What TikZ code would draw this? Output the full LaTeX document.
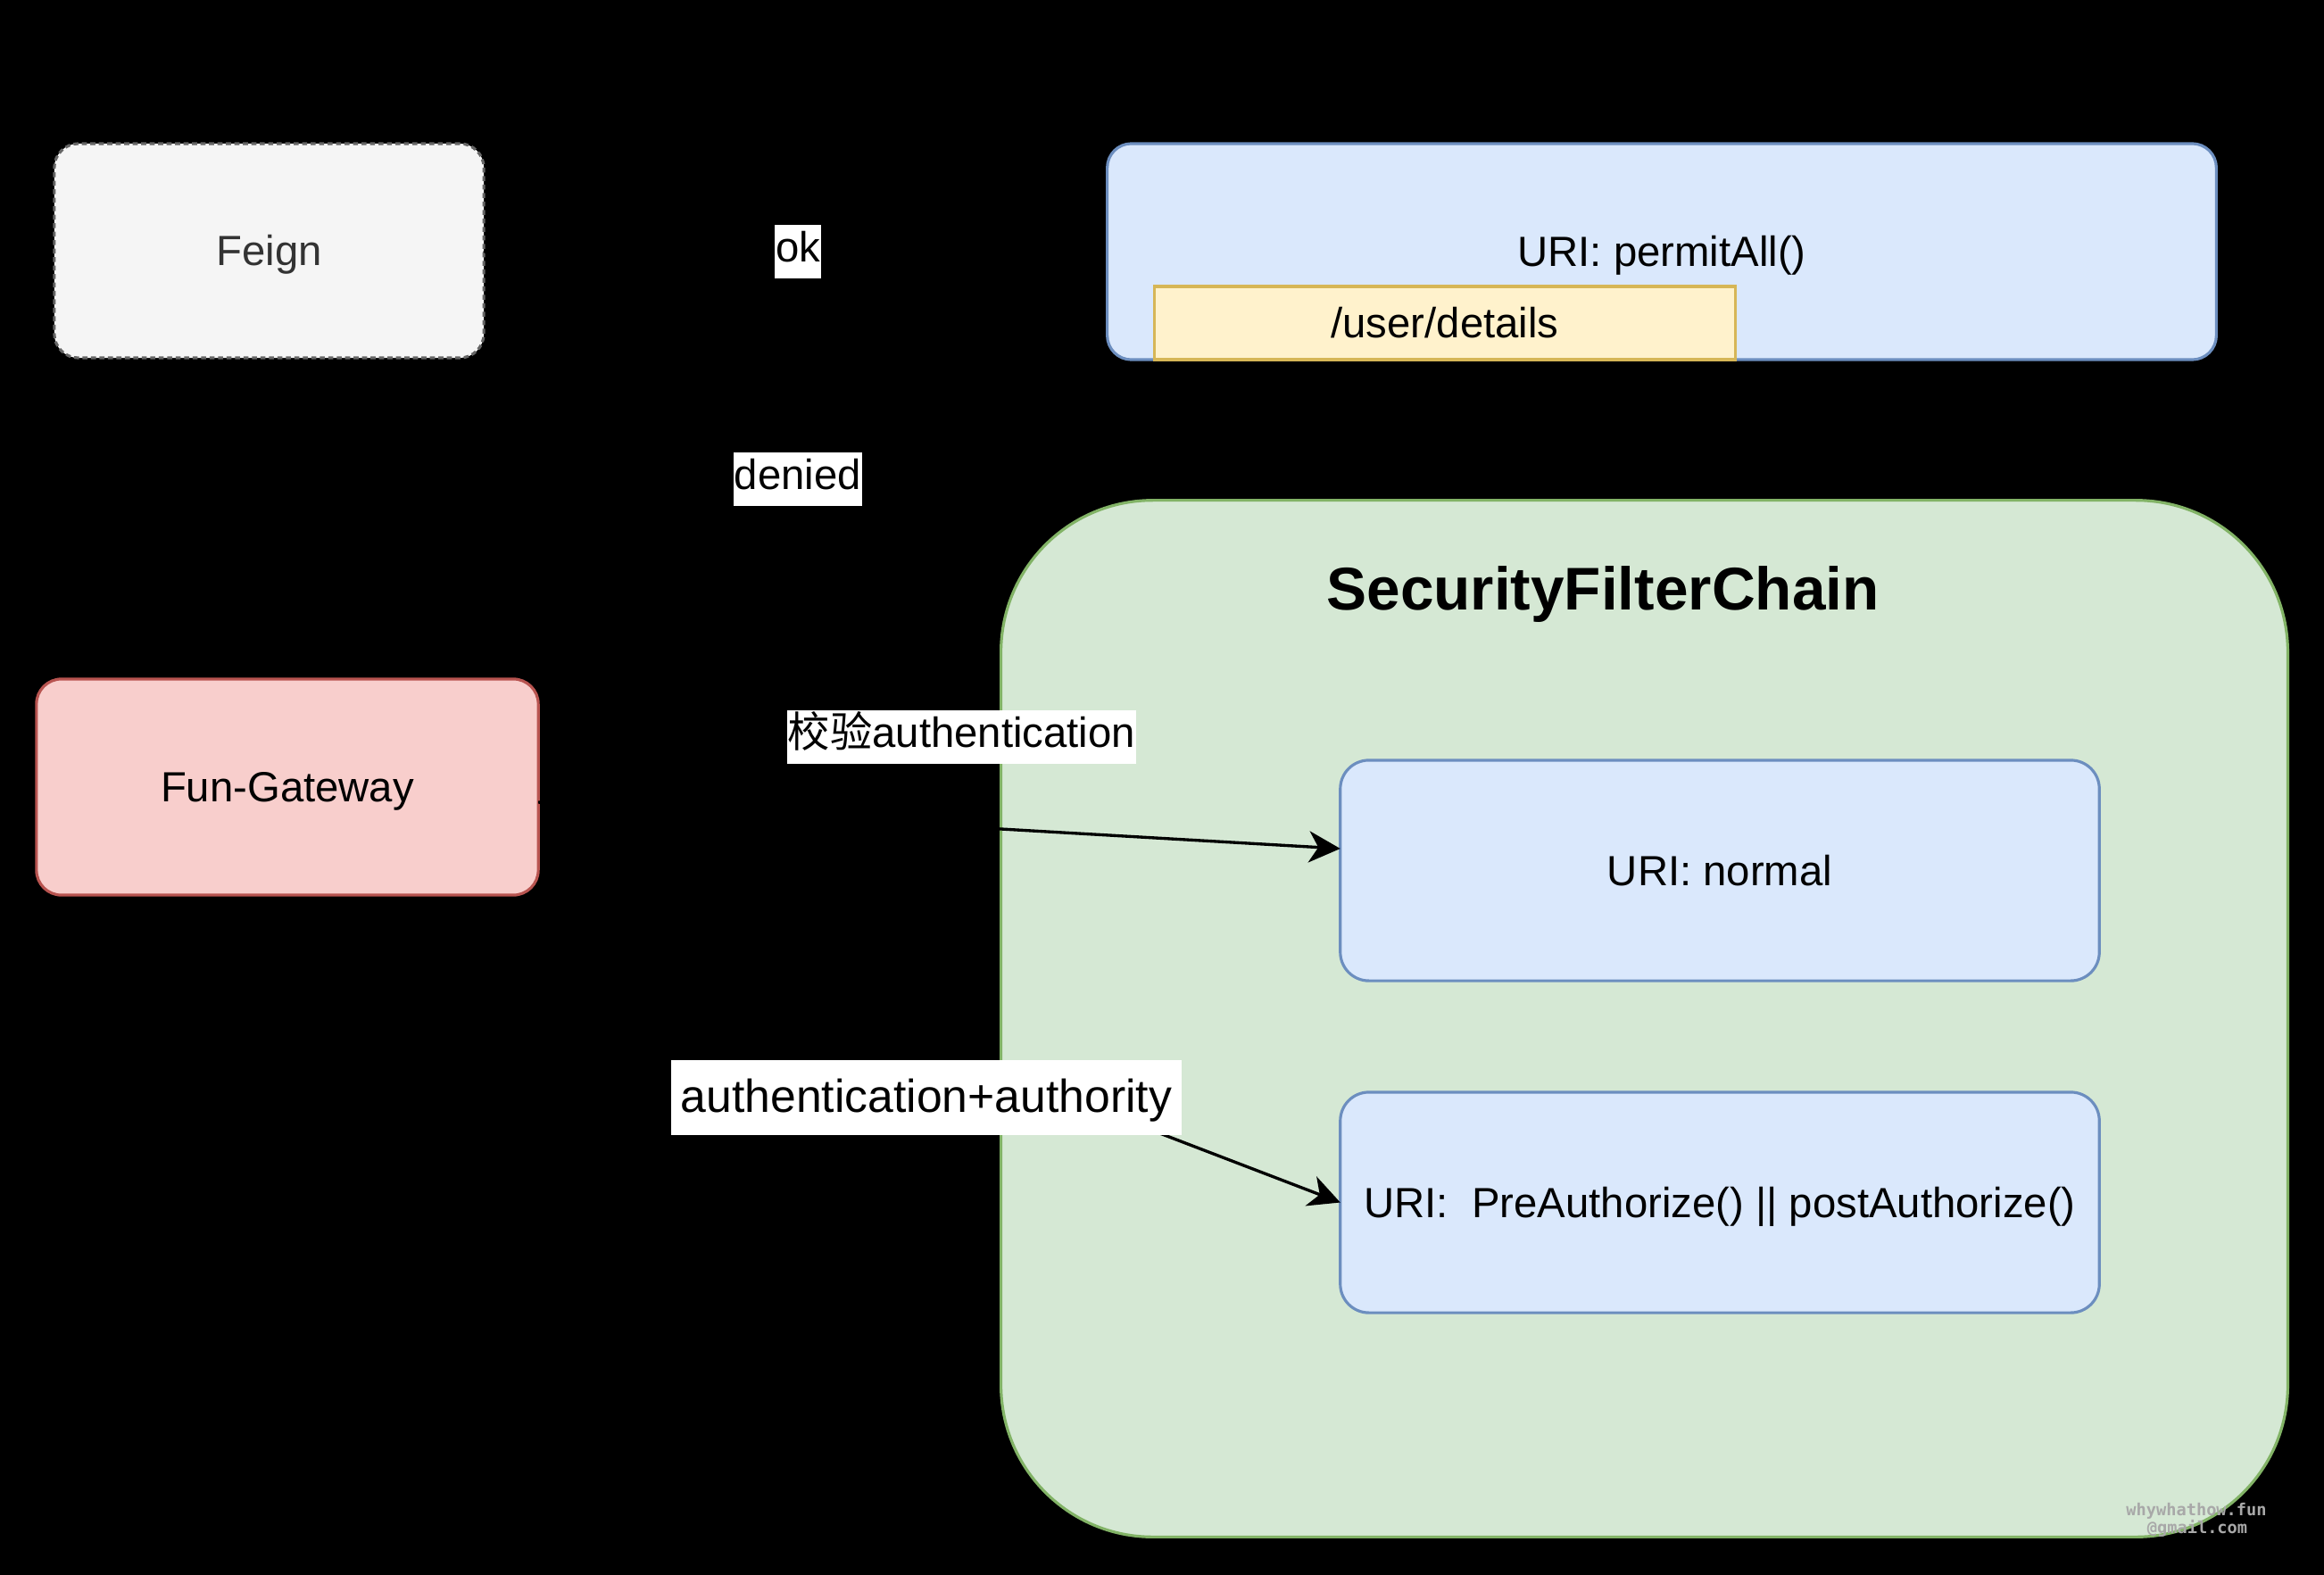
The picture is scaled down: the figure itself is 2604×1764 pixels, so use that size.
\documentclass[tikz,border=0pt]{standalone}
\usepackage{fontspec}
\setmainfont{Liberation Sans}
\newfontfamily\cjkfont{Noto Sans CJK SC}
\newfontfamily\markfont{DejaVu Sans Mono}
\usetikzlibrary{arrows.meta}

\definecolor{feignfill}{HTML}{F5F5F5}
\definecolor{feigndraw}{HTML}{666666}
\definecolor{feigntext}{HTML}{333333}
\definecolor{bluefill}{HTML}{DAE8FC}
\definecolor{bluedraw}{HTML}{6C8EBF}
\definecolor{yelfill}{HTML}{FFF2CC}
\definecolor{yeldraw}{HTML}{D6B656}
\definecolor{redfill}{HTML}{F8CECC}
\definecolor{reddraw}{HTML}{B85450}
\definecolor{grnfill}{HTML}{D5E8D4}
\definecolor{grndraw}{HTML}{82B366}
\definecolor{markgray}{HTML}{A8A8A8}

\begin{document}
\begin{tikzpicture}[x=0.01cm, y=-0.01cm,
  every node/.style={inner sep=0pt, outer sep=0pt},
  basefont/.style={font=\fontsize{13.45pt}{16pt}\selectfont},
  box/.style={basefont, draw, line width=0.9pt, rounded corners=0.27cm,
    text height=9.63pt, text depth=0pt, align=center},
  bluebox/.style={box, draw=bluedraw, fill=bluefill},
  edge/.style={draw=black, line width=0.95pt,
    -{Stealth[length=10pt, width=10pt, inset=3pt]}},
  lbl/.style={basefont, fill=white, text=black, text height=11.66pt,
    text depth=5.4pt, inner xsep=0.4pt, inner ysep=0pt},
  wm/.style={font=\markfont\bfseries\fontsize{5.3pt}{6pt}\selectfont,
    text=markgray, anchor=base}]

% canvas
\useasboundingbox (0,0) rectangle (2604,1764);
\fill[black] (-20,-20) rectangle (2624,1784);

% callers
\node[box, draw=feigndraw, fill=feignfill, text=feigntext,
  dash pattern=on 1.6pt off 1.1pt,
  minimum width=4.81cm, minimum height=2.40cm] (feign) at (301.5,281) {Feign};
\node[box, draw=reddraw, fill=redfill, rounded corners=0.28cm,
  minimum width=5.62cm, minimum height=2.42cm] (gw) at (322,882) {Fun-Gateway};

% open endpoints
\node[bluebox, minimum width=12.42cm, minimum height=2.42cm] (permit)
  at (1862,282) {URI: permitAll()};
\node[box, rounded corners=0pt, draw=yeldraw, fill=yelfill,
  minimum width=6.50cm, minimum height=0.82cm] (userdet)
  at (1619,362) {/user/details};

% filter chain container
\node[draw=grndraw, fill=grnfill, line width=0.9pt, rounded corners=1.7cm,
  minimum width=14.41cm, minimum height=11.61cm] (sfc) at (1842.5,1141.5) {};
\node[font=\bfseries\fontsize{19.2pt}{22pt}\selectfont, anchor=base]
  (sfctitle) at (1796,683) {SecurityFilterChain};

\node[bluebox, rounded corners=0.32cm, minimum width=8.50cm,
  minimum height=2.47cm] (normal) at (1927,975.5) {URI: normal};
\node[bluebox, rounded corners=0.32cm, minimum width=8.50cm,
  minimum height=2.47cm] (pre) at (1927,1347.5)
  {URI:~~PreAuthorize() || postAuthorize()};

% connectors
\draw[edge, shorten >=1pt] (feign.east) -- (permit.west);
\draw[edge] (feign.east) -- (sfc);
\draw[edge] ([yshift=-0.17cm]gw.east) -- ([yshift=0.245cm]normal.west);
\draw[edge] (gw.south east) -- (pre.west);

% connector labels
\node[lbl] (lok) at (894,282) {ok};
\node[lbl] (ldenied) at (894,537) {denied};
\node[lbl] (lcheck) at (1077.5,826) {{\cjkfont 校验}authentication};
\node[lbl, font=\fontsize{14.7pt}{17pt}\selectfont, text height=14.2pt,
  text depth=4.55pt, inner xsep=3pt, inner ysep=2.56pt] (lauth)
  at (1038,1230) {authentication+authority};

% signature
\node[wm] (wm1) at (2461,1698) {whywhathow.fun};
\node[wm] (wm2) at (2462,1718) {@gmail.com};
\end{tikzpicture}
\end{document}
